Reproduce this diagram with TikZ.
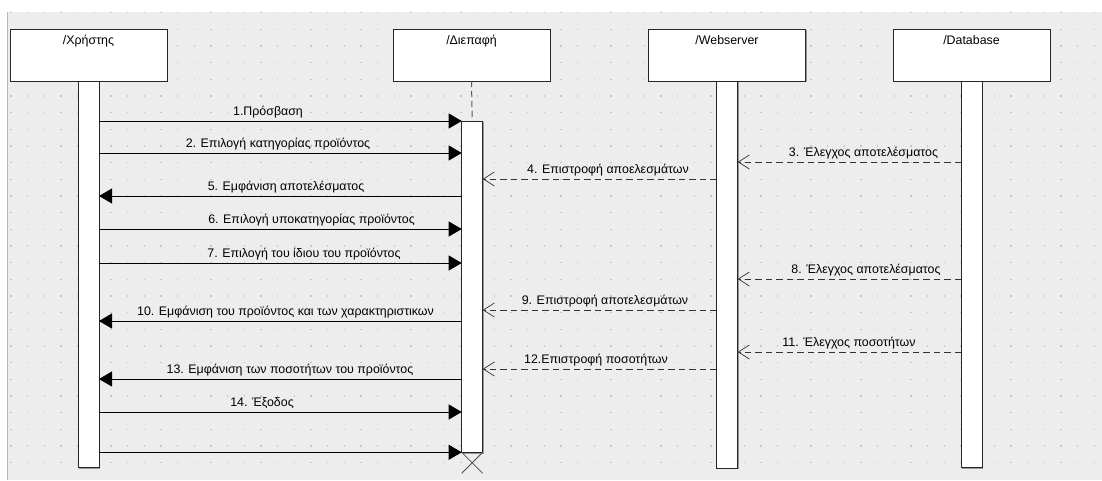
\documentclass[tikz,border=0pt]{standalone}
\usepackage{fontspec}
\setmainfont{Liberation Sans}
\usetikzlibrary{arrows.meta,shadows,calc}
\definecolor{bgc}{HTML}{EDEDED}
\definecolor{dotc}{HTML}{C6C6C6}
\definecolor{edgec}{HTML}{A9B6C6}
\begin{document}
\begin{tikzpicture}[x=1pt,y=-1pt,
  shad/.style={drop shadow={shadow xshift=1.3pt, shadow yshift=-1.3pt, fill=black!40, opacity=1}},
  box/.style={draw=black!85, line width=0.9pt, fill=white, minimum width=157pt, minimum height=52pt, inner sep=0pt, outer sep=0pt, shad},
  bar/.style={draw=black!85, line width=0.9pt, fill=white, minimum width=21pt, inner sep=0pt, outer sep=0pt, shad},
  boxtext/.style={anchor=base, inner sep=0pt, font=\fontsize{12.4}{14}\selectfont},
  msgtext/.style={anchor=base, inner sep=0pt, font=\fontsize{12.4}{14}\selectfont},
  call/.style={draw=black, line width=0.85pt, -{Triangle[length=13pt,width=15pt]}},
  ret/.style={draw=black!80, line width=0.85pt, dash pattern=on 6.5pt off 4pt, -{Straight Barb[length=11pt,width=14pt,line width=0.7pt]}},
  lifeline/.style={draw=black!65, line width=1pt, dash pattern=on 6pt off 4pt},
  destroy/.style={draw=black!70, line width=0.8pt}
]
\useasboundingbox (0,0) rectangle (1102,480);
\fill[white] (0,0) rectangle (1102,480);
\fill[bgc] (7,12) rectangle (1102,480);
\foreach \i in {0,...,65}{\foreach \j in {0,...,27}{\fill[dotc] ({11+16.667*\i-0.7},{12.67+16.667*\j-0.7}) rectangle ++(1.4,1.4);}}
\draw[edgec, line width=1pt] (7,12) -- (7,480);

% heads
\node[box] (ubox) at (88.5,55) {};
\node[box] (ibox) at (471.5,55) {};
\node[box] (wbox) at (727,55) {};
\node[box] (dbox) at (971.5,55) {};
\node[boxtext] (ut) at ([yshift=-15pt]ubox.north) {/Χρήστης};
\node[boxtext] (it) at ([yshift=-15pt]ibox.north) {/Διεπαφή};
\node[boxtext] (wt) at ([yshift=-15pt]wbox.north) {/Webserver};
\node[boxtext] (dt) at ([yshift=-15pt]dbox.north) {/Database};

% bars
\node[bar, minimum height=386.3pt] (ubar) at (88.5,274.15) {};
\node[bar, minimum height=331.3pt] (ibar) at (472.2,286.65) {};
\node[bar, minimum height=387pt] (wbar) at (727.2,274.5) {};
\node[bar, minimum height=386.7pt] (dbar) at (971.5,274.35) {};
\draw[lifeline] (ibox.south) -- (ibar.north);
\draw[destroy] (ibar.south west) -- ($(ibar.south east)+(0,21)$);
\draw[destroy] (ibar.south east) -- ($(ibar.south west)+(0,21)$);

% messages
\draw[call] (ubar.east |- 0,121) -- (ibar.west |- 0,121);
\node[msgtext] (m1) at (268,115.5) {1.Πρόσβαση};
\draw[call] (ubar.east |- 0,153) -- (ibar.west |- 0,153);
\node[msgtext] (m2) at (278,147.5) {2. Επιλογή κατηγορίας προϊόντος};
\draw[ret] (dbar.west |- 0,162) -- (wbar.east |- 0,162);
\node[msgtext] (m3) at (863.5,156.5) {3. Έλεγχος αποτελέσματος};
\draw[ret] (wbar.west |- 0,179) -- (ibar.east |- 0,179);
\node[msgtext] (m4) at (608,173.5) {4. Επιστροφή αποελεσμάτων};
\draw[call] (ibar.west |- 0,196) -- (ubar.east |- 0,196);
\node[msgtext] (m5) at (286,190.5) {5. Εμφάνιση αποτελέσματος};
\draw[call] (ubar.east |- 0,229) -- (ibar.west |- 0,229);
\node[msgtext] (m6) at (311.5,223.5) {6. Επιλογή υποκατηγορίας προϊόντος};
\draw[call] (ubar.east |- 0,263) -- (ibar.west |- 0,263);
\node[msgtext] (m7) at (304,257.5) {7. Επιλογή του ίδιου του προϊόντος};
\draw[ret] (dbar.west |- 0,279) -- (wbar.east |- 0,279);
\node[msgtext] (m8) at (866,273.5) {8. Έλεγχος αποτελέσματος};
\draw[ret] (wbar.west |- 0,310) -- (ibar.east |- 0,310);
\node[msgtext] (m9) at (605,304.5) {9. Επιστροφή αποτελεσμάτων};
\draw[call] (ibar.west |- 0,321) -- (ubar.east |- 0,321);
\node[msgtext] (m10) at (285.5,315.5) {10. Εμφάνιση του προϊόντος και των χαρακτηριστικων};
\draw[ret] (dbar.west |- 0,352) -- (wbar.east |- 0,352);
\node[msgtext] (m11) at (849,346.5) {11. Έλεγχος ποσοτήτων};
\draw[ret] (wbar.west |- 0,369) -- (ibar.east |- 0,369);
\node[msgtext] (m12) at (596,363.5) {12.Επιστροφή ποσοτήτων};
\draw[call] (ibar.west |- 0,379) -- (ubar.east |- 0,379);
\node[msgtext] (m13) at (290,373.5) {13. Εμφάνιση των ποσοτήτων του προϊόντος};
\draw[call] (ubar.east |- 0,412) -- (ibar.west |- 0,412);
\node[msgtext] (m14) at (262,406.5) {14. Έξοδος};
\draw[call] (ubar.east |- 0,452.3) -- (ibar.west |- 0,452.3);
\end{tikzpicture}
\end{document}
